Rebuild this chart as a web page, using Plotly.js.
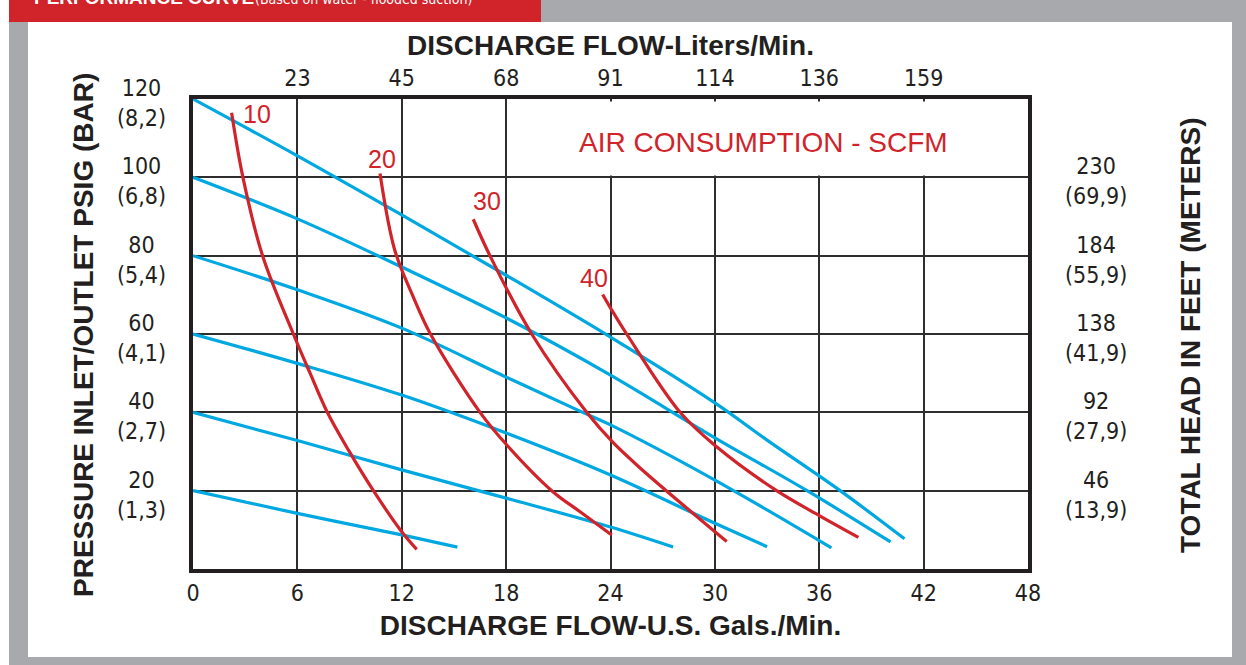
<!DOCTYPE html>
<html>
<head>
<meta charset="utf-8">
<script src="https://cdn.plot.ly/plotly-3.0.1.min.js"></script>
<style>
  html, body { margin: 0; padding: 0; background: #ffffff; }
  #chart { width: 1246px; height: 665px; }
</style>
</head>
<body>
<div id="chart"></div>
<script>
// ---------- DATA ----------
// Bottom axis: discharge flow, U.S. gallons per minute
const gpmTicks = [0, 6, 12, 18, 24, 30, 36, 42, 48];
// Top axis: discharge flow, liters per minute (at the same grid positions)
const lpmTickPos = [6, 12, 18, 24, 30, 36, 42];
const lpmLabels = ['23', '45', '68', '91', '114', '136', '159'];
// Left axis: pressure psig (bar)
const psiTicks = [20, 40, 60, 80, 100, 120];
const barLabels = ['(1,3)', '(2,7)', '(4,1)', '(5,4)', '(6,8)', '(8,2)'];
// Right axis: total head in feet (meters)
const headTickPos = [20, 40, 60, 80, 100];
const headFeet = ['46', '92', '138', '184', '230'];
const headMeters = ['(13,9)', '(27,9)', '(41,9)', '(55,9)', '(69,9)'];

// Blue performance curves (start pressure psig)
const blue120X = [0, 6, 12, 18, 24, 30, 33, 37.2, 40.9];
const blue120Y = [120, 105.5, 90.4, 75, 59.2, 42.4, 32.9, 20, 7.7];
const blue100X = [0, 6, 12, 18, 24, 30, 35.3, 40.1];
const blue100Y = [100, 89.4, 77.1, 64.1, 49.5, 33.5, 20, 6.9];
const blue80X = [0, 6, 12, 18, 22.4, 24, 30, 36.7];
const blue80Y = [80, 71.3, 61.5, 49, 40, 36.8, 22.7, 5.4];
const blue60X = [0, 6, 12, 18, 24, 30, 33];
const blue60Y = [60, 52.5, 44.4, 34.7, 24, 11.7, 5.7];
const blue40X = [0, 6, 12, 18, 24, 27.6];
const blue40Y = [40, 32.8, 25.3, 18.1, 10.7, 5.6];
const blue20X = [0, 6, 12, 15.2];
const blue20Y = [20, 14.2, 8.7, 5.6];

// Red air consumption curves (SCFM)
const airLevels = ['10', '20', '30', '40'];
const red10X = [2.22, 2.87, 4.0, 5.77, 6.73, 7.72, 8.93, 10.37, 12.0, 12.86];
const red10Y = [116.5, 100, 80, 60, 50, 40, 30.4, 20, 9.5, 5.0];
const red20X = [10.75, 11.6, 12.66, 13.65, 16.5, 18.13, 20.62, 22.25, 24.07];
const red20Y = [101, 81.4, 69.5, 60, 40, 31.2, 20, 14.6, 8.7];
const red30X = [16.11, 17.07, 19.47, 22.63, 24.1, 25.7, 30.68];
const red30Y = [89.3, 80, 60, 40, 32.5, 25.8, 7.0];
const red40X = [23.55, 24.1, 24.93, 28, 30.1, 33.55, 36.1, 38.25];
const red40Y = [70.1, 65.9, 60, 40, 31.2, 20, 13.4, 8.1];

// ---------- STYLE / LAYOUT ----------
const BLUE = '#00a8e1';
const RED = '#d1232a';
const GRAY = '#a7a9ac';
const GRID = '#2e2e2e';
const INK = '#231f20';
const NARROW = "'Liberation Sans Narrow', 'DejaVu Sans Condensed', 'Arial Narrow', sans-serif";
const BOLD = "'Liberation Sans', Arial, Helvetica, sans-serif";

const W = 1246, H = 665;
const M = { l: 193, r: 218, t: 99, b: 96 };
const PW = W - M.l - M.r, PH = H - M.t - M.b;
const px = v => (v - M.l) / PW;           // page x px -> paper
const py = v => (H - M.b - v) / PH;       // page y px -> paper

function line(x, y, color, xaxis) {
  return { x: x, y: y, xaxis: xaxis || 'x', yaxis: 'y', type: 'scatter', mode: 'lines',
    line: { color: color, width: 3.2, shape: 'spline', smoothing: 1.0 },
    hoverinfo: 'skip', showlegend: false };
}

const traces = [
  line(blue120X, blue120Y, BLUE), line(blue100X, blue100Y, BLUE),
  line(blue80X, blue80Y, BLUE), line(blue60X, blue60Y, BLUE),
  line(blue40X, blue40Y, BLUE), line(blue20X, blue20Y, BLUE),
  line(red10X, red10Y, RED, 'x2'), line(red20X, red20Y, RED, 'x2'),
  line(red30X, red30Y, RED, 'x2'), line(red40X, red40Y, RED, 'x2')
];

const annotations = [];
// left tick labels (psig + bar), centred two-line labels
psiTicks.forEach((v, i) => annotations.push({
  xref: 'paper', yref: 'y', x: px(141), y: v, yshift: -4,
  text: v + '<br>' + barLabels[i], showarrow: false, align: 'center',
  xanchor: 'center', yanchor: 'middle',
  font: { family: NARROW, size: 23, color: INK }
}));
// right tick labels (feet + meters)
headTickPos.forEach((v, i) => annotations.push({
  xref: 'paper', yref: 'y', x: px(1096), y: v, yshift: -4,
  text: headFeet[i] + '<br>' + headMeters[i], showarrow: false, align: 'center',
  xanchor: 'center', yanchor: 'middle',
  font: { family: NARROW, size: 23, color: INK }
}));
// y titles
annotations.push({
  xref: 'paper', yref: 'paper', x: px(83), y: py(335), textangle: -90,
  xanchor: 'center', yanchor: 'middle',
  text: '<b>PRESSURE INLET/OUTLET PSIG (BAR)</b>', showarrow: false,
  font: { family: BOLD, size: 28, color: INK }
});
annotations.push({
  xref: 'paper', yref: 'paper', x: px(1190), y: py(335), textangle: -90,
  xanchor: 'center', yanchor: 'middle',
  text: '<b>TOTAL HEAD IN FEET (METERS)</b>', showarrow: false,
  font: { family: BOLD, size: 28, color: INK }
});
// air consumption labels, placed next to the top of each red curve
const redTops = [[red10X[0], red10Y[0]], [red20X[0], red20Y[0]], [red30X[0], red30Y[0]], [red40X[0], red40Y[0]]];
const labelShift = [[25, -1], [2, 14], [14, 18], [-9, 16]];
airLevels.forEach((t, i) => annotations.push({
  xref: 'x', yref: 'y', x: redTops[i][0], y: redTops[i][1],
  xshift: labelShift[i][0], yshift: labelShift[i][1],
  xanchor: 'center', yanchor: 'middle',
  text: t, showarrow: false, font: { family: BOLD, size: 25, color: RED }
}));
annotations.push({
  xref: 'paper', yref: 'paper', x: px(763), y: py(142),
  xanchor: 'center', yanchor: 'middle',
  text: 'AIR CONSUMPTION - SCFM', showarrow: false,
  font: { family: BOLD, size: 28, color: RED }
});
// header banner (cut off at the top of the page, as in the source)
annotations.push({
  xref: 'paper', yref: 'paper', x: px(32), y: py(-3), xanchor: 'left', yanchor: 'middle',
  text: '<b>PERFORMANCE CURVE</b>', showarrow: false,
  font: { family: BOLD, size: 19, color: '#ffffff' }
});
annotations.push({
  xref: 'paper', yref: 'paper', x: px(253), y: py(-1), xanchor: 'left', yanchor: 'middle',
  text: '(Based on water - flooded suction)', showarrow: false,
  font: { family: NARROW, size: 14, color: '#ffffff' }
});

const shapes = [
  { type: 'rect', xref: 'paper', yref: 'paper', layer: 'below',
    x0: px(9), x1: px(1246), y0: py(665), y1: py(0), fillcolor: GRAY, line: { width: 0 } },
  { type: 'rect', xref: 'paper', yref: 'paper', layer: 'below',
    x0: px(28), x1: px(1232), y0: py(657), y1: py(22), fillcolor: '#ffffff', line: { width: 0 } },
  { type: 'rect', xref: 'paper', yref: 'paper', layer: 'below',
    x0: px(9), x1: px(541), y0: py(22), y1: py(0), fillcolor: RED, line: { width: 0 } },
  // white box behind the "AIR CONSUMPTION" caption (hides the grid there)
  { type: 'rect', xref: 'paper', yref: 'paper', layer: 'above',
    x0: px(606), x1: px(1025), y0: py(175.5), y1: py(101.5), fillcolor: '#ffffff', line: { width: 0 } }
];

const layout = {
  width: W, height: H,
  margin: M,
  paper_bgcolor: '#ffffff', plot_bgcolor: '#ffffff',
  showlegend: false,
  xaxis: {
    range: [0, 48], tickmode: 'array', tickvals: gpmTicks, ticktext: gpmTicks.map(String),
    showgrid: true, gridcolor: GRID, gridwidth: 2, zeroline: false,
    showline: true, mirror: true, linecolor: INK, linewidth: 4,
    ticks: '', ticklabelstandoff: 0,
    tickfont: { family: NARROW, size: 23, color: INK },
    title: { text: '<b>DISCHARGE FLOW-U.S. Gals./Min.</b>', standoff: 12,
             font: { family: BOLD, size: 28, color: INK } },
    fixedrange: true
  },
  xaxis2: {
    overlaying: 'x', side: 'top', anchor: 'y',
    range: [0, 48], tickmode: 'array', tickvals: lpmTickPos, ticktext: lpmLabels,
    showgrid: false, zeroline: false, showline: false, ticks: '', ticklabelstandoff: 7,
    tickfont: { family: NARROW, size: 23, color: INK },
    title: { text: '<b>DISCHARGE FLOW-Liters/Min.</b>', standoff: 1,
             font: { family: BOLD, size: 28, color: INK } },
    fixedrange: true
  },
  yaxis: {
    range: [0, 120], tickmode: 'array', tickvals: psiTicks,
    showticklabels: false, ticks: '',
    showgrid: true, gridcolor: GRID, gridwidth: 2, zeroline: false,
    showline: true, mirror: true, linecolor: INK, linewidth: 4,
    fixedrange: true
  },
  shapes: shapes,
  annotations: annotations
};

Plotly.newPlot('chart', traces, layout, { staticPlot: true, displayModeBar: false });
</script>
</body>
</html>
